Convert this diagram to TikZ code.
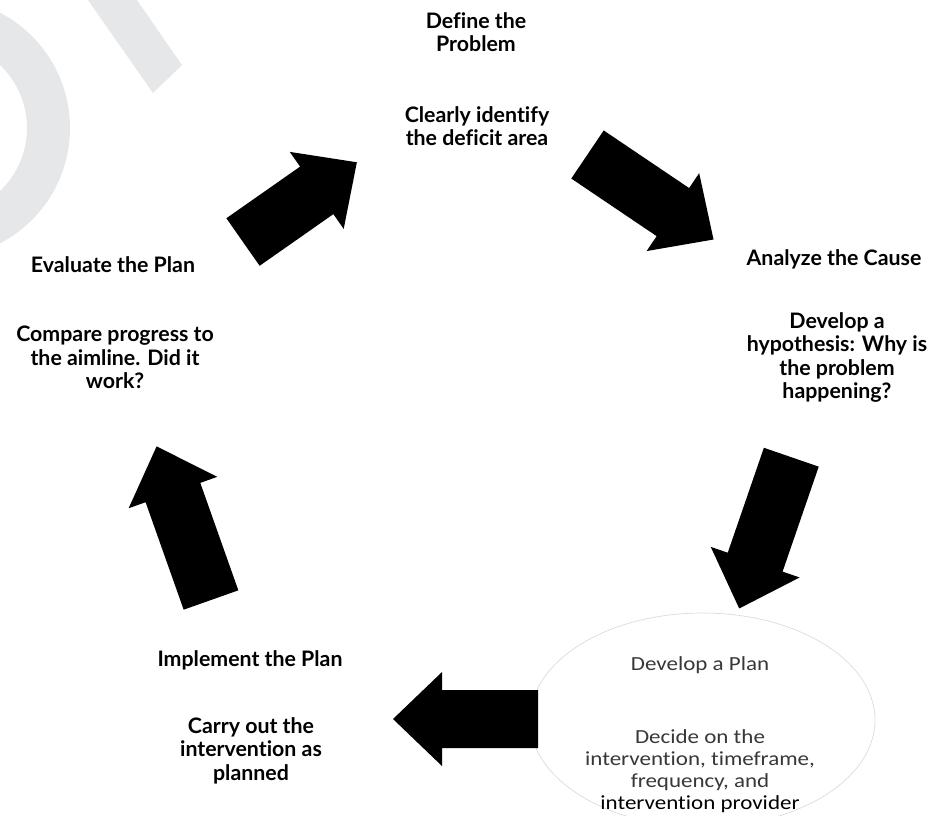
\documentclass[tikz,border=0pt]{standalone}
\usepackage{fontspec}
\usetikzlibrary{shapes.geometric}
\newfontfamily\labelfont[Ligatures=NoCommon]{Lato}
\newfontfamily\planfont[FakeStretch=1.15,Ligatures=NoCommon]{Carlito}
\definecolor{wm}{RGB}{230,231,233}
\definecolor{rim}{RGB}{218,218,218}

\begin{document}
\begin{tikzpicture}[x=0.75pt,y=-0.75pt,
  stage/.style={font=\labelfont\bfseries\fontsize{16}{17.6}\selectfont,
    align=center, inner sep=0pt, anchor=north},
  plantext/.style={font=\planfont\fontsize{15}{16.5}\selectfont,
    align=center, inner sep=0pt, anchor=north, text=black!78},
  % block arrow along the local x axis, tail at the origin; #1 = total length
  pics/blockarrow/.style={code={
    \fill[black] (0,-29) -- ({#1-49},-29) -- ({#1-49},-47) -- (#1,0)
      -- ({#1-49},47) -- ({#1-49},29) -- (0,29) -- cycle;}}
]
\useasboundingbox (0,0) rectangle (945,815);

% faint background emblem
\fill[wm, even odd rule] (-60,128) circle[radius=97.5pt] (-60,128) circle[radius=65.25pt];
\fill[wm] (76.5,-16.4) -- (125.5,-16.4) -- (182,65) -- (153,93) -- cycle;

% oval behind the planning step
\node[ellipse, draw=rim, line width=0.5pt, fill=white, inner sep=0pt,
  minimum width=258.75pt, minimum height=160.5pt] (oval) at (702.5,720) {};

% cycle arrows
\pic[rotate=35]   (a1) at (243,242)   {blockarrow=139};
\pic[rotate=-34]  (a2) at (587.5,154.5) {blockarrow=152};
\pic[rotate=-109] (a3) at (791.3,457.2) {blockarrow=160};
\pic[rotate=180]  (a4) at (538,719)   {blockarrow=145};
\pic[rotate=109.5] (a5) at (211,600)  {blockarrow=163};

% stage titles and descriptions
\node[stage] (define)    at (476,12)  {Define the\\Problem};
\node[stage] (definetxt) at (477,106) {Clearly identify\\the deficit area};
\node[stage] (analyze)   at (834,249) {Analyze the Cause};
\node[stage] (analyzetxt) at (837,312) {Develop a\\hypothesis: Why is\\the problem\\happening?};
\node[stage] (evaluate)  at (113,256) {Evaluate the Plan};
\node[stage] (evaltxt)   at (115,326) {Compare progress to\\the aimline. Did it\\work?};
\node[stage] (implement) at (250,650) {Implement the Plan};
\node[stage] (impltxt)   at (251,717) {Carry out the\\intervention as\\planned};
\node[plantext] (plan)    at (700,656) {Develop a Plan};
\node[plantext] (plantxt) at (700,729) {Decide on the\\intervention, timeframe,\\frequency, and\\{\color{black}intervention provider}};
\end{tikzpicture}
\end{document}
